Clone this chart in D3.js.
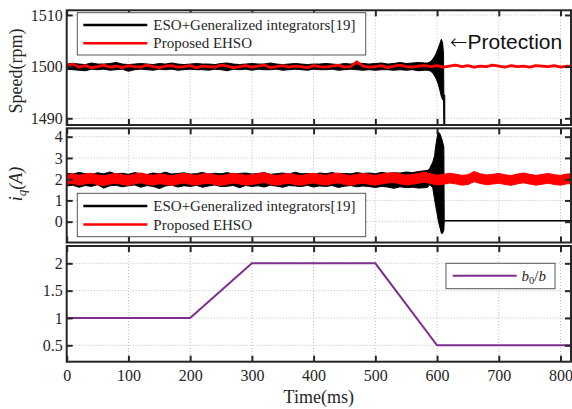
<!DOCTYPE html>
<html>
<head>
<meta charset="utf-8">
<script src="https://cdn.jsdelivr.net/npm/d3@7"></script>
<style>
  html, body { margin: 0; padding: 0; background: #fff; }
  svg { display: block; }
</style>
</head>
<body>
<svg id="chart" width="572" height="409"></svg>
<script>
// ---- time axis ----
const xTicks = [0, 100, 200, 300, 400, 500, 600, 700, 800];
const sampleMs = 10;

// ---- speed, ESO + generalized integrators (envelope of the fast ripple, 0..580 ms) ----
const speedEsoHi = [1500.5,1500.6,1500.5,1500.4,1500.7,1500.5,1500.5,1500.6,1500.8,1500.5,
  1500.4,1500.5,1500.6,1500.5,1500.4,1500.6,1500.5,1500.7,1500.5,1500.4,
  1500.5,1500.6,1500.5,1500.5,1500.4,1500.6,1500.7,1500.5,1500.4,1500.5,
  1500.6,1500.5,1500.5,1500.7,1500.5,1500.4,1500.5,1500.6,1500.5,1500.4,
  1500.5,1500.5,1500.6,1500.5,1500.4,1500.6,1500.5,1500.7,1500.6,1500.5,
  1500.6,1500.7,1500.5,1500.6,1500.8,1500.6,1500.7,1500.8,1500.7];
const speedEsoLo = [1499.5,1499.4,1499.3,1499.2,1499.5,1499.4,1499.5,1499.3,1499.4,1499.5,
  1499.1,1499.4,1499.5,1499.4,1499.3,1499.5,1499.4,1499.5,1499.3,1499.4,
  1499.5,1499.4,1499.4,1499.3,1499.5,1499.4,1499.2,1499.5,1499.4,1499.5,
  1499.3,1499.5,1499.4,1499.4,1499.5,1499.3,1499.4,1499.5,1499.4,1499.3,
  1499.5,1499.4,1499.4,1499.5,1499.3,1499.4,1499.5,1499.4,1499.3,1499.4,
  1499.3,1499.4,1499.4,1499.3,1499.4,1499.3,1499.4,1499.2,1499.3];
// divergence before the protection trips
const speedSpikeT  = [585, 590, 594, 598, 602, 605, 607, 609, 610.5, 611, 612.5];
const speedSpikeHi = [1500.7, 1501.0, 1501.6, 1502.4, 1503.6, 1504.6, 1505.3, 1504.6, 1502.5, 1494.5, 1494.5];
const speedSpikeLo = [1499.3, 1499.1, 1498.6, 1497.8, 1496.6, 1495.2, 1494.2, 1493.6, 1493.4, 1488.7, 1488.7];

// ---- speed, proposed EHSO (0..820 ms) ----
const speedEhso = [1500.1,1500.5,1499.9,1500.2,1499.8,1500.0,1500.3,1499.9,1500.1,1499.8,
  1500.2,1500.0,1499.9,1500.3,1500.0,1499.8,1500.1,1500.2,1499.9,1500.0,
  1500.2,1499.8,1500.1,1500.0,1499.9,1500.3,1500.1,1499.8,1500.0,1500.2,
  1499.9,1500.1,1500.3,1499.8,1500.0,1500.2,1499.9,1500.1,1500.0,1499.8,
  1500.2,1500.0,1499.9,1500.1,1500.3,1499.9,1500.0,1500.9,1500.1,1499.9,
  1500.0,1500.2,1499.8,1500.1,1500.3,1500.0,1499.9,1500.1,1500.2,1500.0,
  1500.2,1499.9,1500.1,1500.3,1500.0,1500.2,1499.9,1500.1,1500.0,1500.3,
  1500.1,1499.9,1500.2,1500.0,1500.1,1499.9,1500.2,1500.1,1500.0,1500.2,
  1499.9,1500.1,1500.0];

// ---- i_q, ESO + generalized integrators (0..580 ms) ----
const iqEsoHi = [2.28,2.24,2.32,2.26,2.22,2.30,2.25,2.34,2.24,2.28,
  2.23,2.31,2.26,2.22,2.29,2.25,2.33,2.24,2.27,2.30,
  2.24,2.26,2.32,2.23,2.28,2.25,2.31,2.24,2.27,2.29,
  2.24,2.27,2.31,2.23,2.26,2.29,2.24,2.33,2.25,2.27,
  2.23,2.29,2.26,2.31,2.25,2.27,2.25,2.31,2.27,2.29,
  2.26,2.32,2.28,2.30,2.29,2.34,2.31,2.36,2.40];
const iqEsoLo = [1.68,1.72,1.62,1.70,1.66,1.74,1.58,1.69,1.71,1.64,
  1.69,1.73,1.62,1.70,1.66,1.56,1.68,1.72,1.63,1.69,
  1.66,1.71,1.62,1.68,1.73,1.65,1.67,1.70,1.60,1.70,
  1.66,1.69,1.63,1.72,1.67,1.62,1.70,1.68,1.65,1.71,
  1.63,1.68,1.66,1.70,1.61,1.67,1.70,1.64,1.68,1.65,
  1.61,1.66,1.63,1.57,1.64,1.60,1.62,1.58,1.60];
const iqSpikeT  = [585, 588, 593, 596, 598, 600, 602, 604.5, 607, 609, 611, 611.6];
const iqSpikeHi = [2.42, 2.50, 2.80, 3.10, 3.60, 3.95, 4.22, 4.15, 3.95, 3.75, 3.50, 0.06];
const iqSpikeLo = [1.62, 1.75, 1.60, 1.05, 0.70, 0.40, 0.05, -0.25, -0.55, -0.55, -0.40, 0.00];
// current after the drive is shut down
const iqOffT = [611.6, 820];
const iqOff  = [0.04, 0.04];

// ---- i_q, proposed EHSO (band, 0..820 ms) ----
const iqEhsoHi = [2.20,2.26,2.18,2.24,2.28,2.20,2.16,2.22,2.27,2.21,
  2.17,2.24,2.29,2.22,2.18,2.25,2.21,2.16,2.23,2.28,
  2.22,2.18,2.24,2.27,2.20,2.16,2.22,2.28,2.23,2.18,
  2.21,2.26,2.30,2.22,2.17,2.23,2.27,2.21,2.17,2.24,
  2.28,2.22,2.18,2.25,2.29,2.21,2.17,2.23,2.27,2.22,
  2.18,2.24,2.28,2.30,2.24,2.19,2.22,2.27,2.33,2.25,
  2.19,2.22,2.28,2.24,2.18,2.21,2.36,2.26,2.20,2.23,
  2.27,2.21,2.17,2.24,2.29,2.23,2.18,2.22,2.27,2.21,
  2.18,2.24,2.26];
const iqEhsoLo = [1.76,1.80,1.72,1.78,1.82,1.74,1.70,1.77,1.81,1.75,
  1.71,1.78,1.83,1.76,1.72,1.79,1.75,1.70,1.77,1.82,
  1.76,1.72,1.78,1.81,1.74,1.70,1.76,1.82,1.77,1.72,
  1.75,1.80,1.84,1.76,1.71,1.77,1.81,1.75,1.71,1.78,
  1.82,1.76,1.72,1.79,1.83,1.75,1.71,1.77,1.81,1.76,
  1.72,1.78,1.82,1.84,1.78,1.73,1.76,1.81,1.86,1.79,
  1.73,1.76,1.82,1.78,1.72,1.75,1.88,1.80,1.74,1.77,
  1.81,1.75,1.71,1.78,1.83,1.77,1.72,1.76,1.81,1.75,
  1.72,1.78,1.80];

// ---- b0/b profile ----
const ratioT = [0, 200, 300, 500, 600, 820];
const ratio  = [1, 1, 2, 2, 0.5, 0.5];

// ---- tick labels ----
const speedTicks = [1490, 1500, 1510];
const iqTicks = [0, 1, 2, 3, 4];
const ratioTicks = [0.5, 1, 1.5, 2];

const legendTop = ["ESO+Generalized integrators[19]", "Proposed EHSO"];

// ================= drawing =================
const svg = d3.select("#chart");
const frameColor = "#262626";
const serif = "'Liberation Serif', 'Times New Roman', serif";
const left = 66.7, right = 571;

const x = d3.scaleLinear().domain([0, 817]).range([left, right]);

const panels = [
  { id: "speed", top: 10.3, bottom: 125,  domain: [1488.7, 1510.9], ticks: speedTicks },
  { id: "iq",    top: 128.3, bottom: 242.5, domain: [-0.98, 4.395], ticks: iqTicks },
  { id: "ratio", top: 246,  bottom: 361.7, domain: [0.2, 2.317], ticks: ratioTicks }
];
panels.forEach(p => {
  p.y = d3.scaleLinear().domain(p.domain).range([p.bottom, p.top]);
});

const defs = svg.append("defs");

function setupPanel(p) {
  const g = svg.append("g").attr("class", "panel-" + p.id);
  // dotted grid
  const grid = g.append("g").attr("stroke", "#bdbdbd").attr("stroke-width", 1).attr("stroke-dasharray", "1,2");
  xTicks.filter(t => t > 0).forEach(t => {
    grid.append("line").attr("x1", x(t)).attr("x2", x(t)).attr("y1", p.top).attr("y2", p.bottom);
  });
  p.ticks.forEach(t => {
    grid.append("line").attr("x1", left).attr("x2", right).attr("y1", p.y(t)).attr("y2", p.y(t));
  });
  defs.append("clipPath").attr("id", "clip-" + p.id)
    .append("rect").attr("x", left).attr("y", p.top).attr("width", right - left).attr("height", p.bottom - p.top);
  p.g = g;
  p.data = g.append("g").attr("clip-path", `url(#clip-${p.id})`);
}

function finishPanel(p, showXLabels) {
  const g = p.g;
  // inward ticks on all four sides
  const axL = d3.axisLeft(p.y).tickValues(p.ticks).tickSize(-6).tickPadding(4).tickFormat(d => d);
  const axR = d3.axisRight(p.y).tickValues(p.ticks).tickSize(-6).tickFormat("");
  const axT = d3.axisTop(x).tickValues(xTicks).tickSize(-6).tickFormat("");
  const axB = d3.axisBottom(x).tickValues(xTicks).tickSize(-6).tickPadding(8).tickFormat(showXLabels ? d => d : "");
  [
    [axL, `translate(${left},0)`],
    [axR, `translate(${right},0)`],
    [axT, `translate(0,${p.top})`],
    [axB, `translate(0,${p.bottom})`]
  ].forEach(([ax, tr]) => {
    const a = g.append("g").attr("transform", tr).call(ax)
      .attr("font-family", serif).attr("font-size", 16);
    a.select(".domain").remove();
    a.selectAll(".tick line").attr("stroke", frameColor).attr("stroke-width", 2);
    a.selectAll(".tick text").attr("fill", frameColor);
  });
  g.append("rect").attr("x", left).attr("y", p.top).attr("width", right - left).attr("height", p.bottom - p.top)
    .attr("fill", "none").attr("stroke", frameColor).attr("stroke-width", 2);
}

function bandPoints(times, hi, lo) {
  return times.map((t, i) => ({ t, hi: hi[i], lo: lo[i] }));
}
const gridTimes = n => d3.range(n).map(i => i * sampleMs);

// ---- panel 1: speed ----
const p1 = panels[0];
setupPanel(p1);
const escBand1 = bandPoints(gridTimes(speedEsoHi.length), speedEsoHi, speedEsoLo)
  .concat(bandPoints(speedSpikeT, speedSpikeHi, speedSpikeLo));
p1.data.append("path").datum(escBand1)
  .attr("d", d3.area().x(d => x(d.t)).y0(d => p1.y(d.lo)).y1(d => p1.y(d.hi)))
  .attr("fill", "#000").attr("stroke", "#000").attr("stroke-width", 1);
p1.data.append("path").datum(speedEhso.map((v, i) => ({ t: i * sampleMs, v })))
  .attr("d", d3.line().x(d => x(d.t)).y(d => p1.y(d.v)))
  .attr("fill", "none").attr("stroke", "#ff0000").attr("stroke-width", 2.8).attr("stroke-linejoin", "round");
finishPanel(p1, false);

// ---- panel 2: i_q ----
const p2 = panels[1];
setupPanel(p2);
const escBand2 = bandPoints(gridTimes(iqEsoHi.length), iqEsoHi, iqEsoLo)
  .concat(bandPoints(iqSpikeT, iqSpikeHi, iqSpikeLo));
p2.data.append("path").datum(escBand2)
  .attr("d", d3.area().x(d => x(d.t)).y0(d => p2.y(d.lo)).y1(d => p2.y(d.hi)))
  .attr("fill", "#000").attr("stroke", "#000").attr("stroke-width", 1);
p2.data.append("path").datum(iqOffT.map((t, i) => ({ t, v: iqOff[i] })))
  .attr("d", d3.line().x(d => x(d.t)).y(d => p2.y(d.v)))
  .attr("fill", "none").attr("stroke", "#000").attr("stroke-width", 1.5);
p2.data.append("path").datum(bandPoints(gridTimes(iqEhsoHi.length), iqEhsoHi, iqEhsoLo))
  .attr("d", d3.area().x(d => x(d.t)).y0(d => p2.y(d.lo)).y1(d => p2.y(d.hi)))
  .attr("fill", "#ff0000").attr("stroke", "#ff0000").attr("stroke-width", 1);
finishPanel(p2, false);

// ---- panel 3: b0/b ----
const p3 = panels[2];
setupPanel(p3);
p3.data.append("path").datum(ratioT.map((t, i) => ({ t, v: ratio[i] })))
  .attr("d", d3.line().x(d => x(d.t)).y(d => p3.y(d.v)))
  .attr("fill", "none").attr("stroke", "#7e2f8e").attr("stroke-width", 2);
finishPanel(p3, true);

// ---- legends ----
function seriesLegend(box, rows) {
  const g = svg.append("g");
  g.append("rect").attr("x", box.x).attr("y", box.y).attr("width", box.w).attr("height", box.h)
    .attr("fill", "#fff").attr("stroke", "#555").attr("stroke-width", 1);
  rows.forEach(r => {
    g.append("line").attr("x1", box.x + 6).attr("x2", box.x + 70).attr("y1", r.y).attr("y2", r.y)
      .attr("stroke", r.color).attr("stroke-width", 2.6);
    g.append("text").attr("x", box.x + 76).attr("y", r.y + 5)
      .attr("font-family", serif).attr("font-size", 15).attr("fill", "#262626").text(r.label);
  });
}
seriesLegend({ x: 77.3, y: 12.7, w: 288.4, h: 42.3 },
  [{ y: 25, color: "#000", label: legendTop[0] }, { y: 43.3, color: "#ff0000", label: legendTop[1] }]);
seriesLegend({ x: 77.3, y: 193.3, w: 288.4, h: 43.4 },
  [{ y: 206, color: "#000", label: legendTop[0] }, { y: 224.5, color: "#ff0000", label: legendTop[1] }]);

// b0/b legend
const lg3 = svg.append("g");
lg3.append("rect").attr("x", 446).attr("y", 263.3).attr("width", 109).attr("height", 25.4)
  .attr("fill", "#fff").attr("stroke", "#555").attr("stroke-width", 1);
lg3.append("line").attr("x1", 452.7).attr("x2", 516.7).attr("y1", 275.7).attr("y2", 275.7)
  .attr("stroke", "#7e2f8e").attr("stroke-width", 2);
const t3 = lg3.append("text").attr("x", 521.5).attr("y", 280.5)
  .attr("font-family", serif).attr("font-size", 15).attr("fill", "#262626");
t3.append("tspan").attr("font-style", "italic").text("b");
t3.append("tspan").attr("font-size", 10.5).attr("dy", 3).text("0");
t3.append("tspan").attr("dy", -3).text("/");
t3.append("tspan").attr("font-style", "italic").text("b");

// ---- annotation ----
const note = svg.append("text").attr("x", 450).attr("y", 48.5)
  .attr("font-family", "'Liberation Sans', Arial, sans-serif").attr("font-size", 21).attr("fill", "#111");
note.append("tspan").attr("font-family", "'DejaVu Sans', sans-serif").attr("font-weight", 300).text("←");
note.append("tspan").text("Protection");

// ---- axis titles ----
svg.append("text").attr("transform", "translate(22,71) rotate(-90)").attr("text-anchor", "middle")
  .attr("font-family", serif).attr("font-size", 18).attr("fill", "#262626").text("Speed(rpm)");
const iqLabel = svg.append("text").attr("transform", "translate(22,184) rotate(-90)").attr("text-anchor", "middle")
  .attr("font-family", serif).attr("font-size", 18).attr("fill", "#262626");
iqLabel.append("tspan").attr("font-style", "italic").text("i");
iqLabel.append("tspan").attr("font-style", "italic").attr("font-size", 13).attr("dy", 4).text("q");
iqLabel.append("tspan").attr("font-style", "italic").attr("dy", -4).text("(A)");

svg.append("text").attr("x", 318.8).attr("y", 403).attr("text-anchor", "middle")
  .attr("font-family", serif).attr("font-size", 18).attr("fill", "#262626").text("Time(ms)");
</script>
</body>
</html>
